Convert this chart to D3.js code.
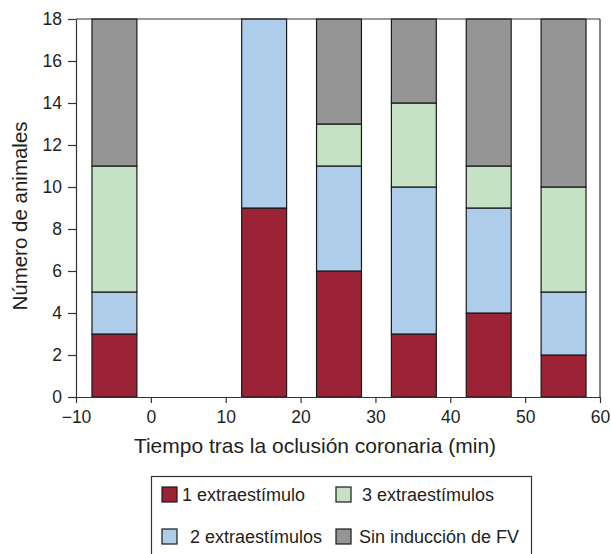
<!DOCTYPE html>
<html>
<head>
<meta charset="utf-8">
<script src="https://cdn.jsdelivr.net/npm/d3@7"></script>
<style>
  body { margin: 0; background: #fff; }
  text { font-family: "Liberation Sans", Arial, sans-serif; fill: #231f20; }
</style>
</head>
<body>
<svg id="chart" width="611" height="554"></svg>
<script>
// data
var tiempos = [-5, 15, 25, 35, 45, 55];
var unoExtra = [3, 9, 6, 3, 4, 2];
var dosExtra = [2, 9, 5, 7, 5, 3];
var tresExtra = [6, 0, 2, 4, 2, 5];
var sinInduccion = [7, 0, 5, 4, 7, 8];
var series = ["1 extraestímulo", "2 extraestímulos", "3 extraestímulos", "Sin inducción de FV"];
var colores = ["#9b2335", "#aecdeb", "#c5e3c4", "#959595"];
var yTicks = [0, 2, 4, 6, 8, 10, 12, 14, 16, 18];
var xTicks = [-10, 0, 10, 20, 30, 40, 50, 60];

var rows = tiempos.map(function(t, i) {
  return {t: t, a: unoExtra[i], b: dosExtra[i], c: tresExtra[i], d: sinInduccion[i]};
});

var pLeft = 76, pRight = 600, pTop = 19, pBottom = 397;
var barW = 6; // minutes

var svg = d3.select("#chart");

var x = d3.scaleLinear().domain([-10, 60]).range([pLeft, pRight]);
var y = d3.scaleLinear().domain([0, 18]).range([pBottom, pTop]);

var stack = d3.stack().keys(["a", "b", "c", "d"]);
var layers = stack(rows);

// bars
svg.append("g").selectAll("g")
    .data(layers)
  .enter().append("g")
    .attr("fill", function(d, i) { return colores[i]; })
  .selectAll("rect")
    .data(function(d) { return d.filter(function(s) { return s[1] > s[0]; }); })
  .enter().append("rect")
    .attr("x", function(d) { return x(d.data.t - barW / 2) + 1; })
    .attr("width", x(barW) - x(0))
    .attr("y", function(d) { return y(d[1]); })
    .attr("height", function(d) { return y(d[0]) - y(d[1]); })
    .attr("stroke", "#1a1a1a")
    .attr("stroke-width", 1.2);

// frame top & right
svg.append("line").attr("x1", pLeft).attr("x2", pRight).attr("y1", pTop).attr("y2", pTop)
  .attr("stroke", "#333").attr("stroke-width", 1.2);
svg.append("line").attr("x1", pRight).attr("x2", pRight).attr("y1", pTop).attr("y2", pBottom)
  .attr("stroke", "#333").attr("stroke-width", 1.2);

// y axis
var yAxis = svg.append("g")
    .attr("transform", "translate(" + pLeft + ",0)")
    .call(d3.axisLeft(y).tickValues(yTicks).tickSize(8).tickSizeOuter(0).tickPadding(6));

// x axis
var xAxis = svg.append("g")
    .attr("transform", "translate(0," + pBottom + ")")
    .call(d3.axisBottom(x).tickValues(xTicks).tickSize(6).tickSizeOuter(0).tickPadding(8)
      .tickFormat(function(d) { return d < 0 ? "\u2212" + Math.abs(d) : d; }));

[yAxis, xAxis].forEach(function(g) {
  g.select(".domain").attr("stroke", "#333").attr("stroke-width", 1.2);
  g.selectAll(".tick line").attr("stroke", "#333").attr("stroke-width", 1.2);
  g.selectAll(".tick text").style("font-size", "17.5px")
    .style("font-family", "Liberation Sans, Arial, sans-serif").attr("fill", "#231f20");
});

// axis titles
svg.append("text")
    .attr("x", 315).attr("y", 453)
    .attr("text-anchor", "middle")
    .style("font-size", "21px")
    .text("Tiempo tras la oclusión coronaria (min)");

svg.append("text")
    .attr("transform", "translate(27,216) rotate(-90)")
    .attr("text-anchor", "middle")
    .style("font-size", "20.5px")
    .text("Número de animales");

// legend
svg.append("rect")
    .attr("x", 151.5).attr("y", 476.5).attr("width", 380).attr("height", 90)
    .attr("fill", "none").attr("stroke", "#333").attr("stroke-width", 1.2);

var legPos = [
  {sx: 162, sy: 487, tx: 182},
  {sx: 162, sy: 529, tx: 190},
  {sx: 336, sy: 487, tx: 362},
  {sx: 336, sy: 529, tx: 359}
];
series.forEach(function(s, i) {
  var p = legPos[i];
  svg.append("rect").attr("x", p.sx).attr("y", p.sy).attr("width", 15).attr("height", 15)
    .attr("fill", colores[i]).attr("stroke", "#1a1a1a").attr("stroke-width", 1.2);
  svg.append("text").attr("x", p.tx).attr("y", p.sy + 14)
    .style("font-size", "18px").text(s);
});
</script>
</body>
</html>
